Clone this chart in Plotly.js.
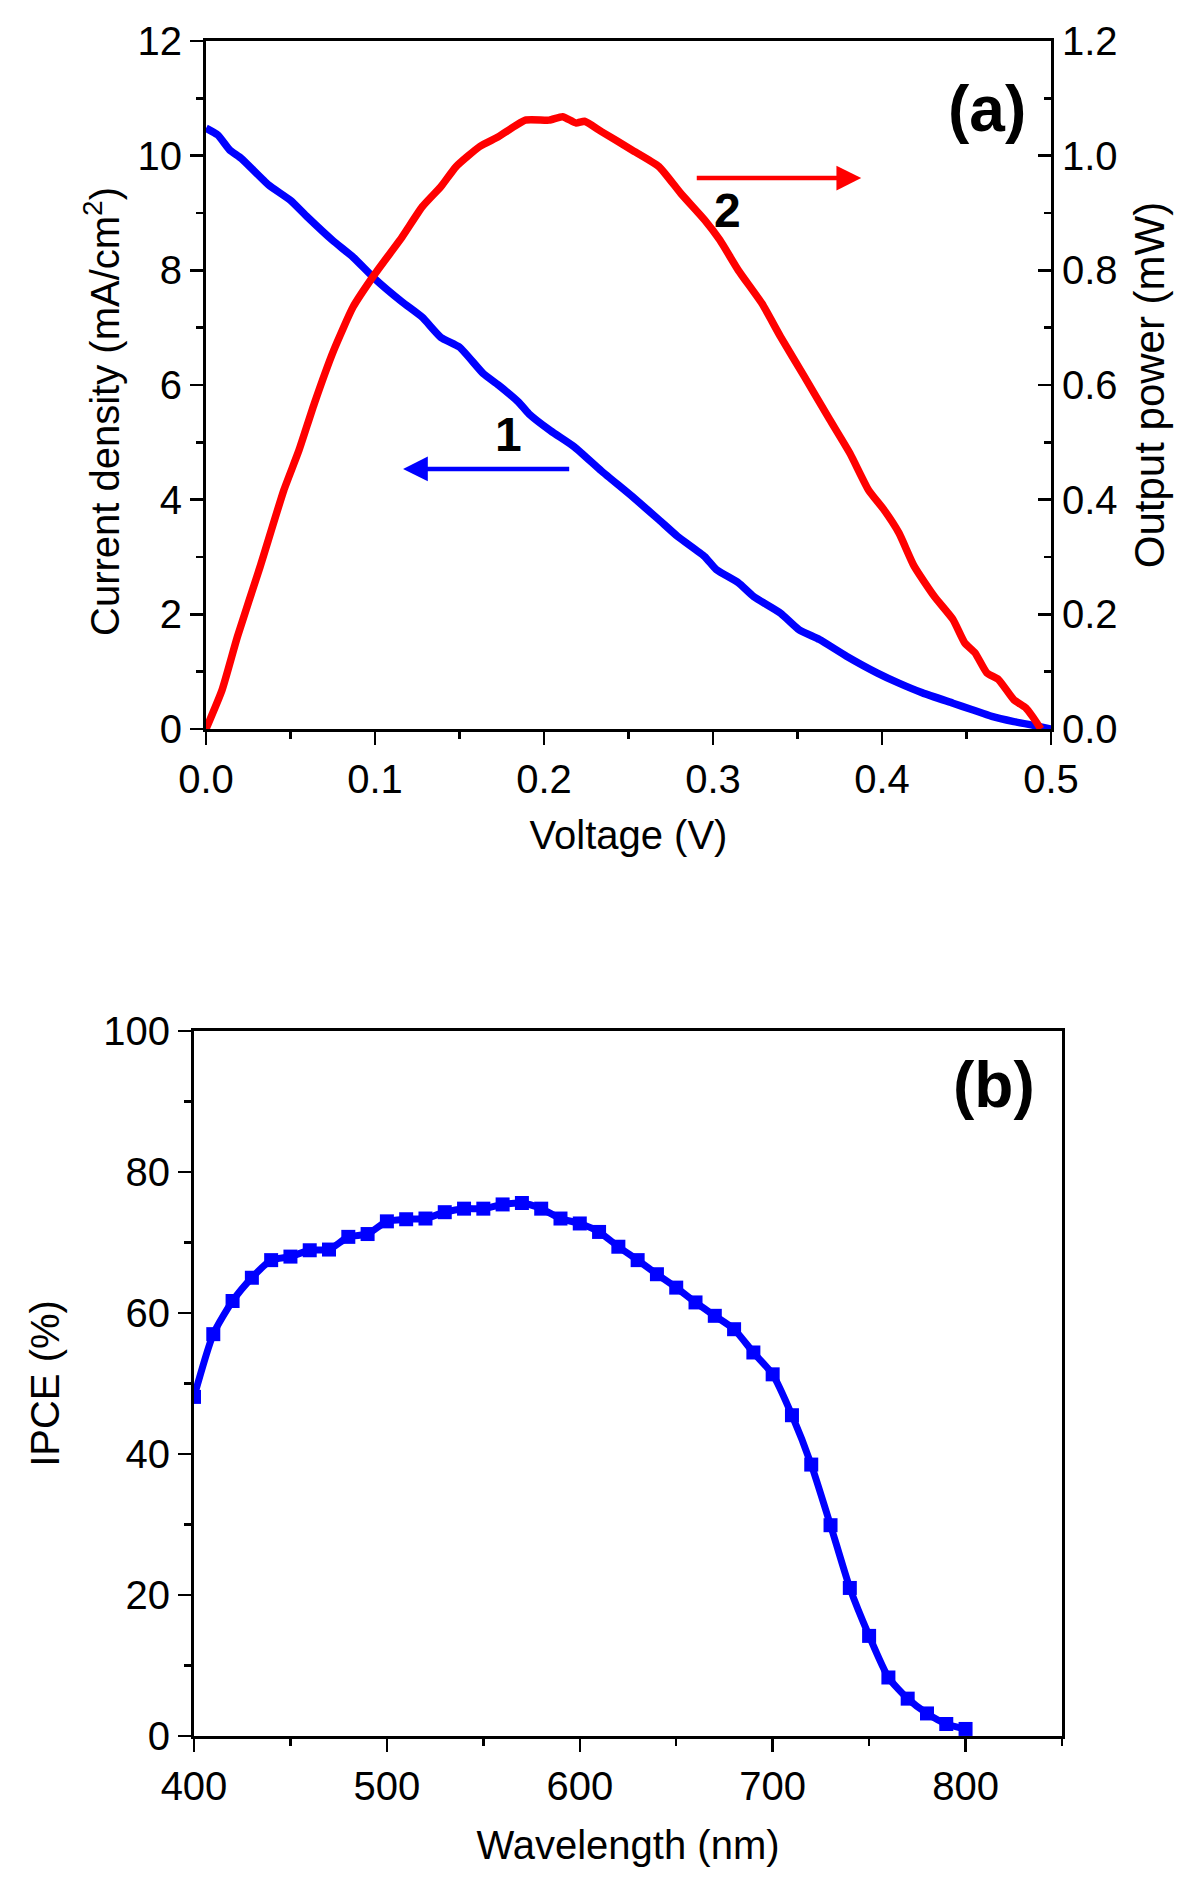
<!DOCTYPE html>
<html>
<head>
<meta charset="utf-8">
<script src="https://cdn.plot.ly/plotly-3.0.1.min.js"></script>
<style>html,body{margin:0;padding:0;background:#fff;}#chart{width:1200px;height:1886px;}</style>
</head>
<body>
<div id="chart"></div>
<script>
// ---- Panel (a): J-V and P-V curves ----
const voltageJ = [0, 0.007, 0.014, 0.021, 0.037, 0.05, 0.06, 0.075, 0.087, 0.1, 0.116, 0.128, 0.139, 0.15, 0.164, 0.173, 0.185, 0.191, 0.204, 0.218, 0.234, 0.252, 0.268, 0.279, 0.295, 0.302, 0.315, 0.324, 0.34, 0.351, 0.363, 0.379, 0.397, 0.41, 0.424, 0.442, 0.453, 0.465, 0.478, 0.492, 0.5];
const currentDensity = [10.48, 10.36, 10.10, 9.95, 9.49, 9.22, 8.93, 8.52, 8.23, 7.85, 7.45, 7.18, 6.83, 6.66, 6.2, 6.0, 5.7, 5.5, 5.2, 4.92, 4.5, 4.06, 3.65, 3.36, 3.01, 2.78, 2.55, 2.31, 2.02, 1.73, 1.56, 1.27, 0.98, 0.80, 0.63, 0.45, 0.34, 0.22, 0.13, 0.05, 0.0];

const voltageP = [0, 0.0095, 0.0186, 0.032, 0.046, 0.055, 0.064, 0.0755, 0.087, 0.1, 0.116, 0.128, 0.139, 0.148, 0.162, 0.173, 0.189, 0.203, 0.211, 0.219, 0.224, 0.234, 0.252, 0.268, 0.281, 0.295, 0.304, 0.315, 0.329, 0.34, 0.354, 0.369, 0.381, 0.392, 0.401, 0.41, 0.419, 0.431, 0.442, 0.449, 0.455, 0.462, 0.469, 0.478, 0.485, 0.489, 0.494];
const outputPower = [0, 0.068, 0.161, 0.283, 0.416, 0.486, 0.567, 0.66, 0.736, 0.794, 0.858, 0.911, 0.946, 0.981, 1.016, 1.033, 1.062, 1.062, 1.068, 1.057, 1.06, 1.042, 1.01, 0.981, 0.934, 0.888, 0.853, 0.80, 0.742, 0.684, 0.615, 0.54, 0.481, 0.417, 0.383, 0.342, 0.284, 0.231, 0.191, 0.15, 0.133, 0.098, 0.086, 0.051, 0.037, 0.022, 0];

// ---- Panel (b): IPCE spectrum ----
const wavelength = [400, 410, 420, 430, 440, 450, 460, 470, 480, 490, 500, 510, 520, 530, 540, 550, 560, 570, 580, 590, 600, 610, 620, 630, 640, 650, 660, 670, 680, 690, 700, 710, 720, 730, 740, 750, 760, 770, 780, 790, 800];
const ipce = [48.1, 57.0, 61.7, 65.0, 67.5, 68.0, 68.9, 69.0, 70.8, 71.2, 73.0, 73.3, 73.4, 74.3, 74.8, 74.8, 75.4, 75.6, 74.8, 73.4, 72.7, 71.5, 69.4, 67.5, 65.5, 63.6, 61.5, 59.6, 57.7, 54.4, 51.3, 45.5, 38.5, 29.9, 21.0, 14.2, 8.3, 5.3, 3.2, 1.7, 1.0];

// ---- Text labels ----
const panelLabels = ['(a)', '(b)'];
const curveLabels = ['1', '2'];
const axisTitles = {
  voltage: 'Voltage (V)',
  current: 'Current density (mA/cm<sup>2</sup>)',
  power: 'Output power (mW)',
  wavelength: 'Wavelength (nm)',
  ipce: 'IPCE (%)'
};

const FONT = 'Liberation Sans, Arial, Helvetica, sans-serif';
const BLACK = '#000000';
const FS = 40;

function baseAxis(extra) {
  return Object.assign({
    showgrid: false, zeroline: false, showline: true,
    linecolor: BLACK, linewidth: 3,
    ticks: 'outside', ticklen: 13, tickwidth: 2.5, tickcolor: BLACK,
    tickfont: {family: FONT, size: FS, color: BLACK},
    fixedrange: true
  }, extra);
}

const traces = [
  {x: voltageJ, y: currentDensity, xaxis: 'x', yaxis: 'y', type: 'scatter', mode: 'lines',
   line: {color: '#0000ff', width: 7.5, shape: 'spline', smoothing: 0.5}, hoverinfo: 'skip'},
  {x: voltageP, y: outputPower, xaxis: 'x', yaxis: 'y2', type: 'scatter', mode: 'lines',
   line: {color: '#ff0000', width: 7.5, shape: 'spline', smoothing: 0.5}, hoverinfo: 'skip'},
  {x: wavelength, y: ipce, xaxis: 'x2', yaxis: 'y3', type: 'scatter', mode: 'lines+markers',
   line: {color: '#0000ff', width: 7, shape: 'spline', smoothing: 0.6},
   marker: {symbol: 'square', size: 14, color: '#0000ff'}, hoverinfo: 'skip'}
];

const W = 1200, H = 1886;
const layout = {
  width: W, height: H,
  margin: {l: 0, r: 0, t: 0, b: 0},
  paper_bgcolor: '#ffffff', plot_bgcolor: '#ffffff',
  showlegend: false,
  font: {family: FONT, size: FS, color: BLACK},
  xaxis: baseAxis({
    domain: [206 / W, 1051 / W], anchor: 'y', range: [0, 0.5],
    dtick: 0.1, tick0: 0, tickformat: '.1f', mirror: true,
    minor: {ticks: 'outside', ticklen: 7, tickwidth: 2.5, tickcolor: BLACK, dtick: 0.05, showgrid: false},
    title: {text: axisTitles.voltage, font: {family: FONT, size: FS, color: BLACK}, standoff: 21}
  }),
  yaxis: baseAxis({
    domain: [1 - 729 / H, 1 - 41 / H], anchor: 'x', range: [0, 12],
    dtick: 2, tick0: 0, mirror: false,
    minor: {ticks: 'outside', ticklen: 7, tickwidth: 2.5, tickcolor: BLACK, dtick: 1, showgrid: false}
  }),
  yaxis2: baseAxis({
    overlaying: 'y', side: 'right', anchor: 'x', range: [0, 1.2],
    dtick: 0.2, tick0: 0, tickformat: '.1f', ticks: 'inside',
    minor: {ticks: 'inside', ticklen: 7, tickwidth: 2.5, tickcolor: BLACK, dtick: 0.1, showgrid: false},
    title: {text: axisTitles.power, font: {family: FONT, size: 42, color: BLACK}, standoff: 18}
  }),
  xaxis2: baseAxis({
    domain: [194 / W, 1062 / W], anchor: 'y3', range: [400, 850],
    dtick: 100, tick0: 400, mirror: true,
    minor: {ticks: 'outside', ticklen: 7, tickwidth: 2.5, tickcolor: BLACK, dtick: 50, showgrid: false},
    title: {text: axisTitles.wavelength, font: {family: FONT, size: FS, color: BLACK}, standoff: 24}
  }),
  yaxis3: baseAxis({
    domain: [1 - 1736 / H, 1 - 1031 / H], anchor: 'x2', range: [0, 100],
    dtick: 20, tick0: 0, mirror: true,
    minor: {ticks: 'outside', ticklen: 7, tickwidth: 2.5, tickcolor: BLACK, dtick: 10, showgrid: false},
    title: {text: axisTitles.ipce, font: {family: FONT, size: FS, color: BLACK}, standoff: 32}
  }),
  annotations: [
    // left y-axis title of panel (a), placed slightly below axis centre as in the original
    {xref: 'paper', yref: 'paper', x: 102 / W, y: 1 - 412 / H, xanchor: 'center', yanchor: 'middle',
     textangle: -90, text: axisTitles.current, showarrow: false,
     font: {family: FONT, size: FS, color: BLACK}},
    {xref: 'x', yref: 'y', x: 0.462, y: 10.82, text: '<b>' + panelLabels[0] + '</b>', showarrow: false,
     font: {family: FONT, size: 64, color: BLACK}},
    {xref: 'x2', yref: 'y3', x: 815, y: 92.4, text: '<b>' + panelLabels[1] + '</b>', showarrow: false,
     font: {family: FONT, size: 64, color: BLACK}},
    {xref: 'x', yref: 'y', x: 0.1787, y: 5.14, text: '<b>' + curveLabels[0] + '</b>', showarrow: false,
     font: {family: FONT, size: 48, color: BLACK}},
    {xref: 'x', yref: 'y', x: 0.3086, y: 9.04, text: '<b>' + curveLabels[1] + '</b>', showarrow: false,
     font: {family: FONT, size: 48, color: BLACK}},
    // arrow for curve 1 (points to left axis)
    {xref: 'x', yref: 'y', axref: 'x', ayref: 'y', x: 0.1166, y: 4.535, ax: 0.2158, ay: 4.535,
     text: '', showarrow: true, arrowhead: 2, arrowsize: 1.1, arrowwidth: 4.5, arrowcolor: '#0000ff', standoff: 0},
    // arrow for curve 2 (points to right axis)
    {xref: 'x', yref: 'y', axref: 'x', ayref: 'y', x: 0.3877, y: 9.61, ax: 0.2895, ay: 9.61,
     text: '', showarrow: true, arrowhead: 2, arrowsize: 1.1, arrowwidth: 4.5, arrowcolor: '#ff0000', standoff: 0}
  ]
};

Plotly.newPlot('chart', traces, layout, {staticPlot: true, displayModeBar: false});
</script>
</body>
</html>
